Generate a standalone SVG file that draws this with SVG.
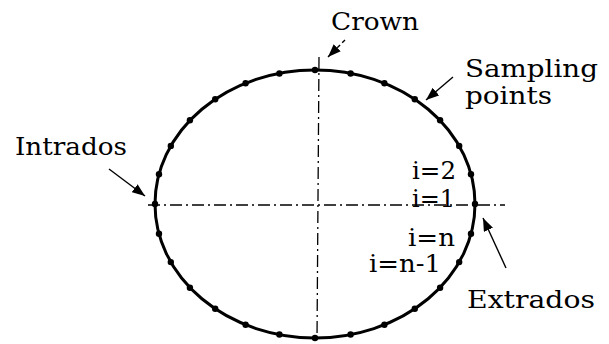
<svg xmlns="http://www.w3.org/2000/svg" width="609" height="344" viewBox="0 0 609 344">
<style>
.ax{stroke:#000;stroke-width:1.3;fill:none;stroke-dasharray:12 4 2 4}
.ar{stroke:#000;stroke-width:1.4;fill:none}
.dot{fill:#000}
</style>
<defs>
<marker id="ah" markerUnits="userSpaceOnUse" markerWidth="14" markerHeight="10" refX="13" refY="5" orient="auto">
<path d="M0,0 L13,5 L0,10 z" fill="#000"/>
</marker>
</defs>
<g id="axes">
<line class="ax" x1="148" y1="205" x2="505" y2="205"/>
<line class="ax" x1="319" y1="57" x2="317" y2="340"/>
</g>
<g id="ellipse">
<ellipse cx="315" cy="204" rx="160" ry="134" fill="none" stroke="#000" stroke-width="3"/>
</g>
<g id="points">
<circle class="dot" r="3.2" cx="475" cy="204.0"/>
<circle class="dot" r="3.2" cx="471.0" cy="174.2"/>
<circle class="dot" r="3.2" cx="459.2" cy="145.9"/>
<circle class="dot" r="3.2" cx="440.1" cy="120.3"/>
<circle class="dot" r="3.2" cx="414.8" cy="99.2"/>
<circle class="dot" r="3.2" cx="384.4" cy="83.3"/>
<circle class="dot" r="3.2" cx="350.6" cy="73.5"/>
<circle class="dot" r="3.2" cx="315" cy="70"/>
<circle class="dot" r="3.2" cx="279.4" cy="73.5"/>
<circle class="dot" r="3.2" cx="245.6" cy="83.3"/>
<circle class="dot" r="3.2" cx="215.2" cy="99.2"/>
<circle class="dot" r="3.2" cx="189.9" cy="120.3"/>
<circle class="dot" r="3.2" cx="170.8" cy="145.9"/>
<circle class="dot" r="3.2" cx="159.0" cy="174.2"/>
<circle class="dot" r="3.2" cx="155" cy="204"/>
<circle class="dot" r="3.2" cx="159.0" cy="233.8"/>
<circle class="dot" r="3.2" cx="170.8" cy="262.1"/>
<circle class="dot" r="3.2" cx="189.9" cy="287.7"/>
<circle class="dot" r="3.2" cx="215.2" cy="308.8"/>
<circle class="dot" r="3.2" cx="245.6" cy="324.7"/>
<circle class="dot" r="3.2" cx="279.4" cy="334.5"/>
<circle class="dot" r="3.2" cx="315" cy="338"/>
<circle class="dot" r="3.2" cx="350.6" cy="334.5"/>
<circle class="dot" r="3.2" cx="384.4" cy="324.7"/>
<circle class="dot" r="3.2" cx="414.8" cy="308.8"/>
<circle class="dot" r="3.2" cx="440.1" cy="287.7"/>
<circle class="dot" r="3.2" cx="459.2" cy="262.1"/>
<circle class="dot" r="3.2" cx="471.0" cy="233.8"/>
</g>
<g id="connectors">
<line class="ar" x1="345" y1="40" x2="328" y2="57" stroke-dasharray="4 3" marker-end="url(#ah)"/>
<line class="ar" x1="453" y1="77" x2="426" y2="100" marker-end="url(#ah)"/>
<line class="ar" x1="109" y1="169" x2="145" y2="196" marker-end="url(#ah)"/>
<line class="ar" x1="506" y1="268" x2="483" y2="218" marker-end="url(#ah)"/>
</g>
<g font-family="DejaVu Serif, serif" font-size="25" fill="#000">
<g id="crown"><text x="331" y="30" textLength="88" lengthAdjust="spacingAndGlyphs">Crown</text></g>
<g id="sampling"><text x="465" y="77" textLength="133" lengthAdjust="spacingAndGlyphs">Sampling</text>
<text x="465" y="104" textLength="87" lengthAdjust="spacingAndGlyphs">points</text></g>
<g id="intrados"><text x="15" y="155" textLength="112" lengthAdjust="spacingAndGlyphs">Intrados</text></g>
<g id="extrados"><text x="467" y="308" textLength="128" lengthAdjust="spacingAndGlyphs">Extrados</text></g>
<g id="labels">
<text x="412" y="179" textLength="44" lengthAdjust="spacingAndGlyphs">i=2</text>
<text x="412" y="207" textLength="43" lengthAdjust="spacingAndGlyphs">i=1</text>
<text x="408" y="246" textLength="47" lengthAdjust="spacingAndGlyphs">i=n</text>
<text x="369" y="272" textLength="72" lengthAdjust="spacingAndGlyphs">i=n-1</text>
</g>
</g>
</svg>
